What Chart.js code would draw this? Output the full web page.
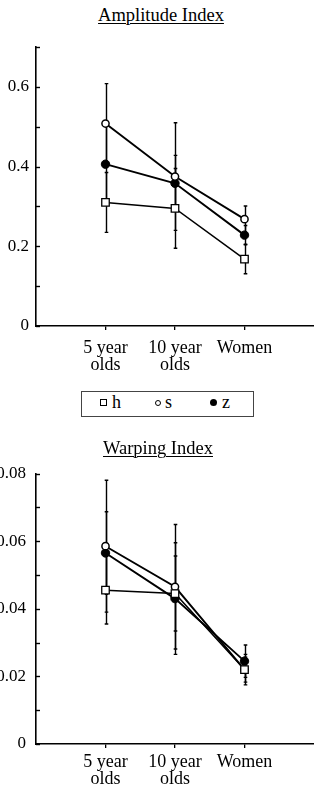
<!DOCTYPE html>
<html>
<head>
<meta charset="utf-8">
<script src="https://cdn.jsdelivr.net/npm/chart.js@4"></script>
<style>
  html, body { margin:0; padding:0; background:#fff; }
  body { width:314px; height:789px; position:relative; overflow:hidden; font-family:'Liberation Serif', serif; color:#000; }
  canvas { position:absolute; left:0; }
  .title { position:absolute; left:0; width:314px; font-size:18.5px; line-height:18px; text-align:center; text-decoration:underline; text-underline-offset:2px; text-decoration-thickness:1px; z-index:2; }
  #legend { position:absolute; left:81px; top:391px; width:173px; height:26px; border:1px solid #444; box-sizing:border-box; }
  .item { position:absolute; top:0; height:24px; font-size:18px; line-height:20px; }
  .sym { position:absolute; box-sizing:border-box; }
  .lbl { position:absolute; top:0; }
</style>
</head>
<body>
<canvas id="c1" width="314" height="350" style="top:30px"></canvas>
<canvas id="c2" width="314" height="334" style="top:455px"></canvas>
<div class="title" style="top:6px;padding-left:8px;box-sizing:border-box;">Amplitude Index</div>
<div class="title" style="top:439px;padding-left:2px;box-sizing:border-box;">Warping Index</div>
<div id="legend"></div>
<script>
// ---- data ----
const categories = [['5 year', 'olds'], ['10 year', 'olds'], ['Women']];
const seriesNames = ['h', 's', 'z'];

const ampH = [0.310, 0.295, 0.168];
const ampHErr = [0.075, 0.100, 0.037];
const ampS = [0.508, 0.375, 0.268];
const ampSErr = [0.100, 0.135, 0.033];
const ampZ = [0.406, 0.358, 0.228];
const ampZErr = [0.100, 0.070, 0.024];

const warpH = [0.0455, 0.0445, 0.0220];
const warpHErr = [0.0100, 0.0111, 0.0037];
const warpS = [0.0585, 0.0465, 0.0220];
const warpSErr = [0.0195, 0.0184, 0.0045];
const warpZ = [0.0565, 0.0430, 0.0245];
const warpZErr = [0.0122, 0.0165, 0.0048];

const ampTicks = [0, 0.1, 0.2, 0.3, 0.4, 0.5, 0.6, 0.7];
const ampTickLabels = ['0', '', '0.2', '', '0.4', '', '0.6', ''];
const warpTicks = [0, 0.01, 0.02, 0.03, 0.04, 0.05, 0.06, 0.07, 0.08];
const warpTickLabels = ['0', '', '0.02', '', '0.04', '', '0.06', '', '0.08'];

// ---- styling ----
const XFONT = { family: "'Liberation Serif', serif", size: 18, lineHeight: 0.95 };
const YFONT = { family: "'Liberation Serif', serif", size: 17, lineHeight: 1 };
const markerStyles = {
  h: { pointStyle: 'rect', pointRadius: 5.3, pointBackgroundColor: '#fff', pointBorderWidth: 1.3, borderWidth: 1.5 },
  s: { pointStyle: 'circle', pointRadius: 3.6, pointBackgroundColor: '#fff', pointBorderWidth: 1.5, borderWidth: 1.9 },
  z: { pointStyle: 'circle', pointRadius: 4.2, pointBackgroundColor: '#000', pointBorderWidth: 1, borderWidth: 1.9 }
};

const errorBars = {
  id: 'errorBars',
  beforeDatasetsDraw(chart) {
    const ctx = chart.ctx, ys = chart.scales.y;
    ctx.save();
    ctx.strokeStyle = '#000';
    ctx.lineWidth = 1.4;
    chart.data.datasets.forEach((ds, i) => {
      const meta = chart.getDatasetMeta(i);
      meta.data.forEach((pt, j) => {
        const v = ds.data[j].y, e = ds.errors[j];
        const x = Math.round(pt.x) + 0.5;
        const y1 = ys.getPixelForValue(v + e), y2 = ys.getPixelForValue(v - e);
        ctx.beginPath();
        ctx.moveTo(x, y1); ctx.lineTo(x, y2);
        ctx.moveTo(x - 1.8, y1); ctx.lineTo(x + 1.8, y1);
        ctx.moveTo(x - 1.8, y2); ctx.lineTo(x + 1.8, y2);
        ctx.stroke();
      });
    });
    ctx.restore();
  }
};

const innerTicks = {
  id: 'innerTicks',
  afterDraw(chart) {
    const ctx = chart.ctx, ys = chart.scales.y, left = chart.chartArea.left;
    ctx.save();
    ctx.strokeStyle = '#000';
    ctx.lineWidth = 1.4;
    ys.ticks.forEach(t => {
      const y = Math.round(ys.getPixelForValue(t.value)) + 0.5;
      ctx.beginPath(); ctx.moveTo(left, y); ctx.lineTo(left + 4, y); ctx.stroke();
    });
    ctx.restore();
  }
};

function makeChart(id, series, errs, yMax, ticks, tickLabels, opts) {
  const datasets = seriesNames.map((n, i) => Object.assign({
    label: n,
    data: series[i].map((v, k) => ({ x: k, y: v })),
    errors: errs[i],
    borderColor: '#000',
    pointBorderColor: '#000',
    fill: false,
    tension: 0
  }, markerStyles[n]));
  return new Chart(document.getElementById(id), {
    type: 'line',
    data: { datasets },
    options: {
      responsive: false,
      animation: false,
      layout: { autoPadding: false, padding: { top: opts.padTop, right: 0, bottom: 0, left: 0 } },
      plugins: { legend: { display: false }, tooltip: { enabled: false }, title: { display: false } },
      scales: {
        x: {
          type: 'linear', min: -1, max: 3,
          afterBuildTicks: s => { s.ticks = categories.map((c, i) => ({ value: i })); },
          afterFit: s => { s.height = opts.xHeight; },
          ticks: { callback: (v, i) => categories[i], font: XFONT, color: '#000', padding: opts.xPad, maxRotation: 0, autoSkip: false },
          grid: { drawOnChartArea: false, drawTicks: true, tickLength: 4, color: '#000', lineWidth: 1.3 },
          border: { display: true, color: '#000', width: 1.6 }
        },
        y: {
          min: 0, max: yMax,
          afterBuildTicks: s => { s.ticks = ticks.map(v => ({ value: v })); },
          afterFit: s => { s.width = 36; },
          ticks: { callback: (v, i) => tickLabels[i], font: YFONT, color: '#000', padding: opts.yPad, autoSkip: false },
          grid: { display: false, drawTicks: false },
          border: { display: true, color: '#000', width: 1.6 }
        }
      }
    },
    plugins: [errorBars, innerTicks]
  });
}

makeChart('c1', [ampH, ampS, ampZ], [ampHErr, ampSErr, ampZErr], 0.7, ampTicks, ampTickLabels,
  { padTop: 17, xHeight: 54, xPad: 10, yPad: 7 });
makeChart('c2', [warpH, warpS, warpZ], [warpHErr, warpSErr, warpZErr], 0.08, warpTicks, warpTickLabels,
  { padTop: 14, xHeight: 45, xPad: 6, yPad: 10 });

// ---- legend (HTML, built from series names) ----
const legend = document.getElementById('legend');
const symCss = {
  h: 'width:7px;height:7px;border:1.3px solid #000;background:#fff;top:7px;left:-3.5px;',
  s: 'width:6px;height:6px;border:1px solid #000;border-radius:50%;background:#fff;top:7.5px;left:-3px;',
  z: 'width:7px;height:7px;border-radius:50%;background:#000;top:7px;left:-3.5px;'
};
seriesNames.forEach((n, i) => {
  const item = document.createElement('div');
  item.className = 'item';
  item.style.left = (21 + i * 55) + 'px';
  item.innerHTML = '<span class="sym" style="' + symCss[n] + '"></span><span class="lbl" style="left:' + (n === 's' ? 7 : 9) + 'px">' + n + '</span>';
  legend.appendChild(item);
});
</script>
</body>
</html>
